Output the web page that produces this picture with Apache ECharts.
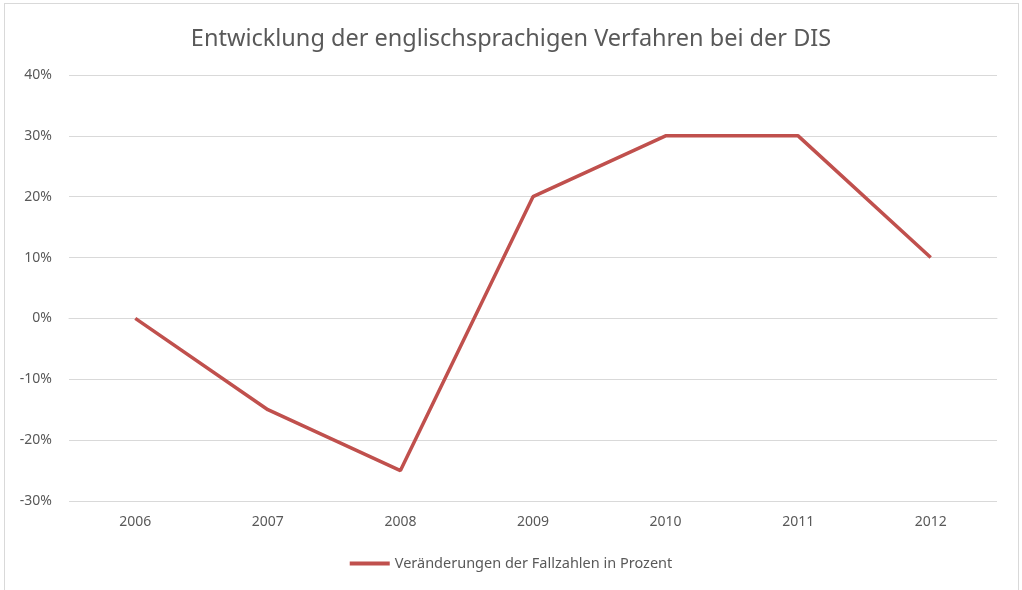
<!DOCTYPE html>
<html>
<head>
<meta charset="utf-8">
<script src="https://cdn.jsdelivr.net/npm/echarts@6/dist/echarts.min.js"></script>
<style>
  html, body { margin: 0; padding: 0; background: #fff; }
  #chart { width: 1022px; height: 590px; }
  .frame { position: absolute; left: 4px; top: 3px; width: 1013px; height: 600px; border: 1px solid #d9d9d9; pointer-events: none; }
</style>
</head>
<body>
<div id="chart"></div>
<div class="frame"></div>
<script>
// Jahre und prozentuale Veränderung
const years = ['2006', '2007', '2008', '2009', '2010', '2011', '2012'];
const changes = [0, -15, -25, 20, 30, 30, 10];
const seriesName = 'Veränderungen der Fallzahlen in Prozent';

const chart = echarts.init(document.getElementById('chart'));
const font = 'Noto Sans';

chart.setOption({
  animation: false,
  title: {
    text: 'Entwicklung der englischsprachigen Verfahren bei der DIS',
    left: 'center',
    top: 22,
    textStyle: { fontFamily: font, fontSize: 23.5, fontWeight: 'normal', color: '#595959' }
  },
  legend: {
    bottom: 14,
    left: 'center',
    itemWidth: 40,
    itemHeight: 4,
    itemGap: 4,
    textStyle: { fontFamily: font, fontSize: 14.5, color: '#595959' },
    data: [{ name: seriesName, icon: 'rect' }]
  },
  grid: { left: 69, right: 25, top: 75, bottom: 89 },
  xAxis: {
    type: 'category',
    data: years,
    axisLine: { lineStyle: { color: '#d9d9d9' } },
    axisTick: { show: false },
    axisLabel: { fontFamily: font, fontSize: 14, color: '#595959', margin: 14 }
  },
  yAxis: {
    type: 'value',
    min: -30,
    max: 40,
    interval: 10,
    axisLine: { show: false },
    axisTick: { show: false },
    splitLine: { lineStyle: { color: '#d9d9d9' } },
    axisLabel: { formatter: '{value}%', fontFamily: font, fontSize: 14, color: '#595959', margin: 17 }
  },
  series: [{
    name: seriesName,
    type: 'line',
    data: changes,
    symbol: 'none',
    lineStyle: { color: '#c0504d', width: 3.5 },
    itemStyle: { color: '#c0504d' }
  }]
});
</script>
</body>
</html>
